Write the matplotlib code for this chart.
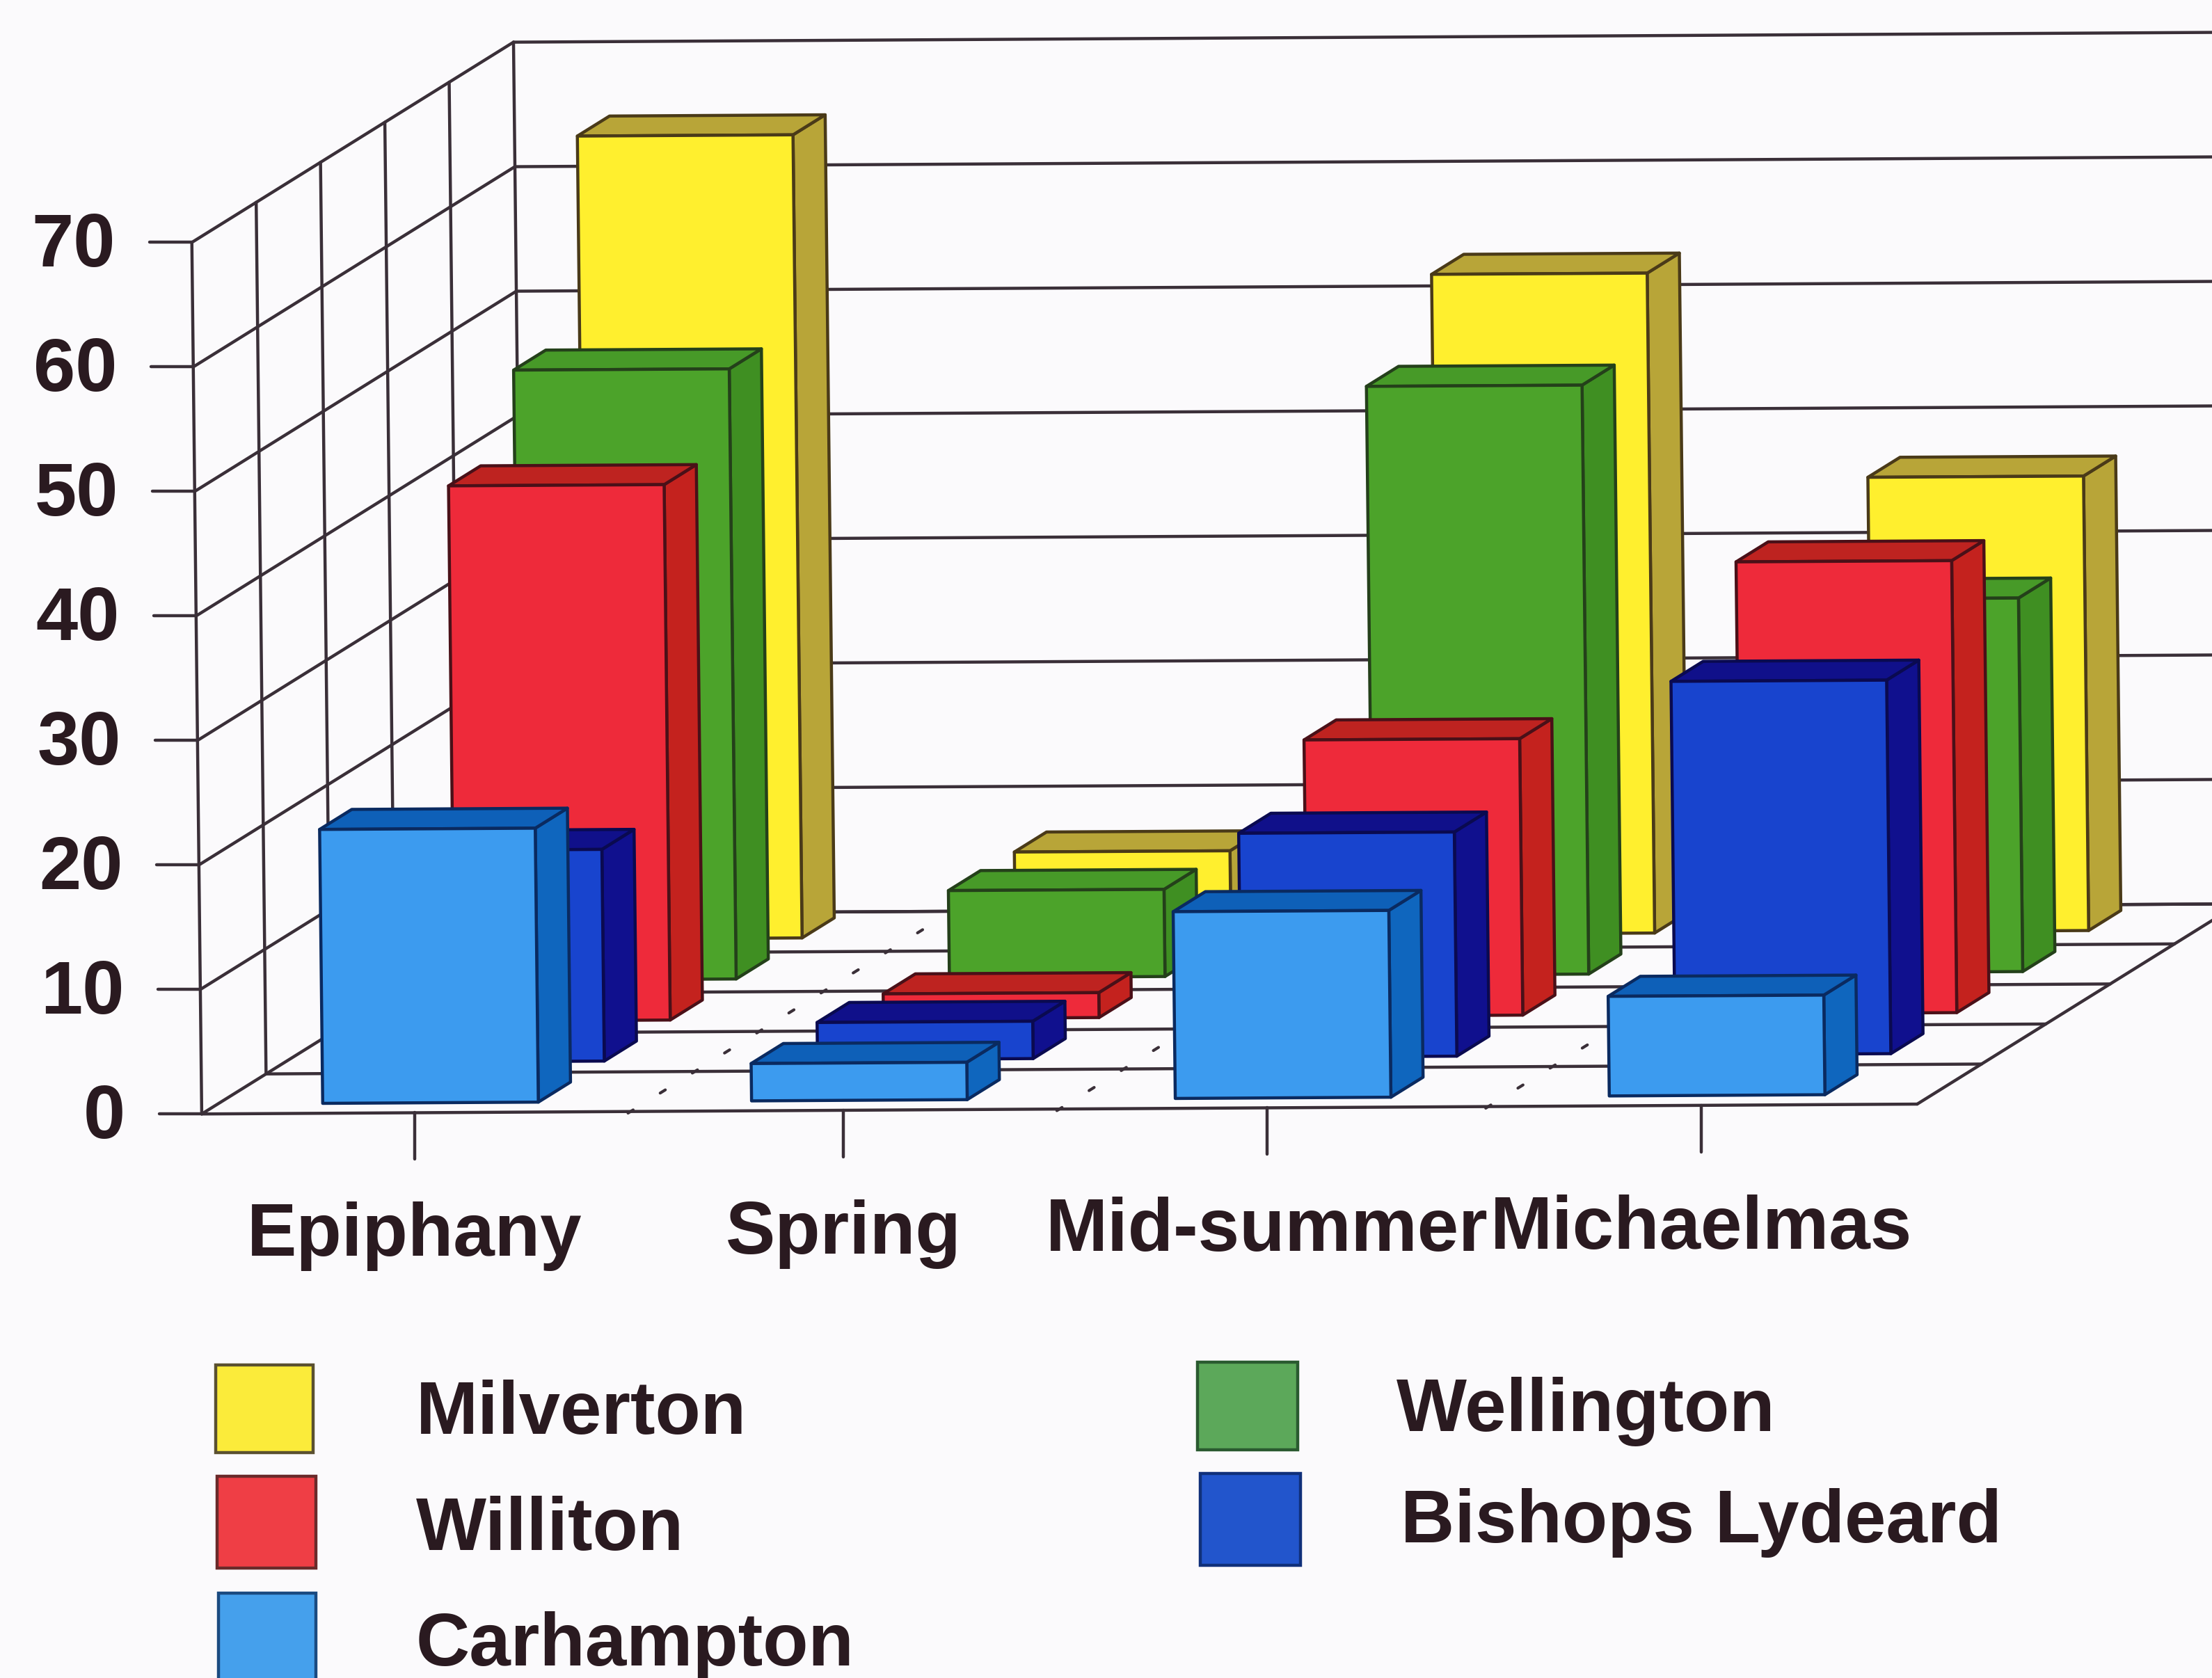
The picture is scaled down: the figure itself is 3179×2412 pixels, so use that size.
import matplotlib
matplotlib.use("Agg")
import matplotlib.pyplot as plt
from matplotlib.patches import Polygon, Rectangle

plt.rcParams['font.family'] = ['Liberation Sans', 'DejaVu Sans']

# ---- data -----------------------------------------------------------
categories = ["Epiphany", "Spring", "Mid-summer", "Michaelmas"]
carhampton = [22, 3, 15, 8]
bishops = [17, 3, 18, 30]
williton = [43, 2, 22.2, 36.3]
wellington = [49, 7, 47.3, 30]
milverton = [64.5, 6.8, 53, 36.5]
value_ticks = [0, 10, 20, 30, 40, 50, 60, 70]

series_names = ["Carhampton", "Bishops Lydeard", "Williton", "Wellington", "Milverton"]
series_values = [carhampton, bishops, williton, wellington, milverton]
front_cols = ["#3C9BEF", "#1844CE", "#EE2A3A", "#4CA32A", "#FFEF2E"]
side_cols = ["#0F66BE", "#10108E", "#C4221E", "#3F8F22", "#B8A538"]
top_cols = ["#0E60B8", "#10108A", "#BE2320", "#479A28", "#B8A538"]
edge_cols = ["#0A2A60", "#0A0A50", "#4A1018", "#24401A", "#4A3A18"]

BG = "#FBFAFC"
LINE = "#3A2F38"
TXT = "#2A1A20"
VMAX = 70

# ---- oblique projection: (category axis, depth axis, value) -> canvas
O = (143.0, 790.0)
CV = (1216.0, -7.0)
DV = (228.0, -142.0)
VV = (-0.1, -8.83)
cat_nudge = [-0.001, -0.001, -0.004, -0.001]


def P(c, d, v=0.0):
    return (O[0] + CV[0] * c + DV[0] * d + VV[0] * v,
            O[1] + CV[1] * c + DV[1] * d + VV[1] * v)


fig = plt.figure(figsize=(31.79, 24.12), dpi=100, facecolor=BG)
ax = fig.add_axes([0, 0, 1, 1])
ax.set_xlim(0, 1568)
ax.set_ylim(1190, 0)
ax.axis("off")

LW = 3.2


def seg(a, b, lw=LW, col=LINE, z=1):
    ax.plot([a[0], b[0]], [a[1], b[1]], color=col, lw=lw, solid_capstyle="round", zorder=z)


# walls & floor
for v in value_ticks:
    seg(P(0, 0, v), P(0, 1, v))
    seg(P(0, 1, v), P(1.05, 1, v))
    a = P(0, 0, v)
    seg((a[0] - 30, a[1]), a)
    ax.text(a[0] - 54, a[1] + 17, str(v), ha="right", va="baseline", fontsize=78,
            fontweight="bold", color=TXT)
n_slots = len(series_names)
for k in range(n_slots + 1):
    d = k / n_slots
    seg(P(0, d, 0), P(0, d, VMAX))
    seg(P(0, d, 0), P(1, d, 0))
seg(P(1, 0), P(1, 1))

# floor specks on hidden category boundaries
n_cat = len(categories)
for i in range(1, n_cat):
    c = i / n_cat
    for k in range(2 * n_slots + 1):
        d = k / (2 * n_slots)
        seg(P(c, d - 0.008), P(c, d + 0.008), lw=3.0)

# category ticks and labels
bw = 0.1257
for i, name in enumerate(categories):
    a = P((i + 0.5) / n_cat + cat_nudge[i], 0)
    seg(a, (a[0], a[1] + 33))
    ax.text(a[0], a[1] + 101.5, name, ha="center", va="baseline", fontsize=77,
            fontweight="bold", color=TXT, zorder=3)

# bars: back to front
for j in range(n_slots - 1, -1, -1):
    d0 = 0.05 + 0.205 * j
    d1 = d0 + 0.1
    for i, v in enumerate(series_values[j]):
        c0 = (i + 0.5) / n_cat - bw / 2 + cat_nudge[i]
        c1 = c0 + bw
        kw = dict(edgecolor=edge_cols[j], linewidth=LW, joinstyle="round", zorder=5)
        ax.add_patch(Polygon([P(c1, d0, 0), P(c1, d1, 0), P(c1, d1, v), P(c1, d0, v)],
                             facecolor=side_cols[j], **kw))
        ax.add_patch(Polygon([P(c0, d0, v), P(c1, d0, v), P(c1, d1, v), P(c0, d1, v)],
                             facecolor=top_cols[j], **kw))
        ax.add_patch(Polygon([P(c0, d0, 0), P(c1, d0, 0), P(c1, d0, v), P(c0, d0, v)],
                             facecolor=front_cols[j], **kw))

# legend
legend_names = ["Milverton", "Williton", "Carhampton", "Wellington", "Bishops Lydeard"]
legend_cols = ["#FBEB3A", "#EF3E45", "#45A0EC", "#5CA85A", "#2255CC"]
legend_edges = ["#5A5030", "#6A2A2A", "#1A4A80", "#2A5A30", "#10307A"]
legend_boxes = [(153, 968, 69, 62), (154, 1047, 70, 65), (155, 1130, 69, 70),
                (849, 966, 71, 62), (851, 1045, 71, 65)]
legend_text = [(295, 1017), (295, 1099), (295, 1181), (990, 1015), (993, 1094)]
for nm, col, ec, box, tp in zip(legend_names, legend_cols, legend_edges, legend_boxes, legend_text):
    ax.add_patch(Rectangle(box[:2], box[2], box[3], facecolor=col, edgecolor=ec, linewidth=LW, zorder=5))
    ax.text(tp[0], tp[1], nm, ha="left", va="baseline", fontsize=77, fontweight="bold", color=TXT)

fig.savefig("out.png", dpi=100, facecolor=BG)
